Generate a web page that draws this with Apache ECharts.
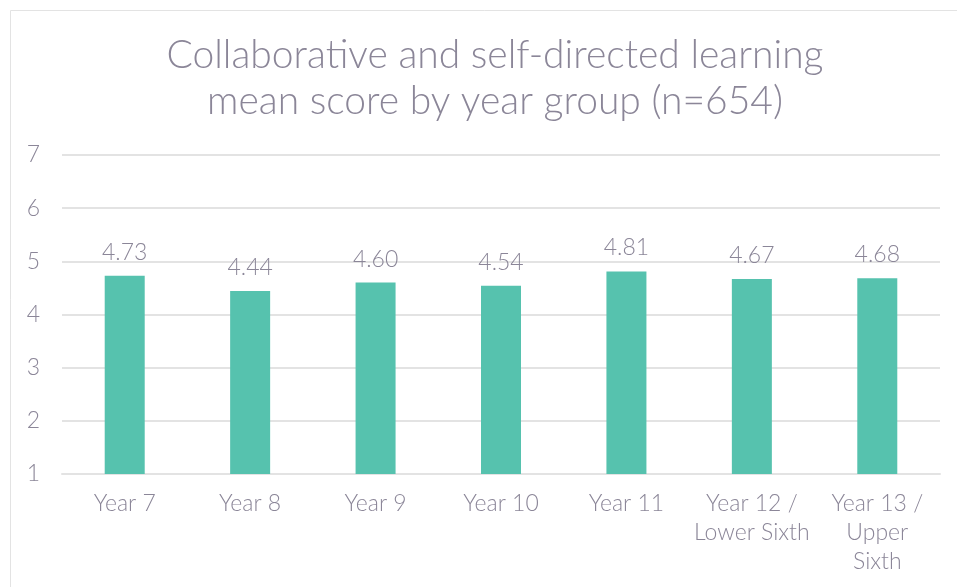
<!DOCTYPE html>
<html>
<head>
<meta charset="utf-8">
<script src="https://cdn.jsdelivr.net/npm/echarts@6/dist/echarts.min.js"></script>
<style>
html,body{margin:0;padding:0;background:#fff;}
#chart{width:957px;height:587px;}
</style>
</head>
<body>
<div id="chart"></div>
<script>
const categories = ["Year 7", "Year 8", "Year 9", "Year 10", "Year 11", "Year 12 /\nLower Sixth", "Year 13 /\nUpper\nSixth"];
const meanScores = [4.73, 4.44, 4.60, 4.54, 4.81, 4.67, 4.68];
const titleText = "Collaborative and self-directed learning\nmean score by year group (n=654)";

const textColor = "#8b8698";
const fontFam = "Lato, 'Open Sans', sans-serif";

const chart = echarts.init(document.getElementById('chart'), null, {renderer: 'canvas'});
chart.setOption({
  animation: false,
  backgroundColor: '#fff',
  graphic: [{
    type: 'rect',
    shape: {x: 10.5, y: 10.5, width: 1000, height: 1000},
    style: {fill: 'none', stroke: '#e3e3e3', lineWidth: 1},
    silent: true
  }],
  title: {
    text: titleText,
    left: 490,
    textAlign: 'center',
    top: 27,
    textStyle: {
      color: textColor,
      fontFamily: fontFam,
      fontWeight: 300,
      fontSize: 39,
      lineHeight: 46
    }
  },
  grid: {left: 62, right: 17, top: 155, bottom: 113},
  xAxis: {
    type: 'category',
    data: categories,
    axisLine: {lineStyle: {color: '#e3e3e3', width: 2}},
    axisTick: {show: false},
    axisLabel: {
      color: textColor,
      fontFamily: fontFam,
      fontWeight: 300,
      fontSize: 23,
      lineHeight: 29,
      margin: 15,
      interval: 0
    }
  },
  yAxis: {
    type: 'value',
    min: 1,
    max: 7,
    interval: 1,
    axisLine: {show: false},
    axisTick: {show: false},
    splitLine: {lineStyle: {color: '#e3e3e3', width: 2}},
    axisLabel: {
      color: textColor,
      fontFamily: fontFam,
      fontWeight: 300,
      fontSize: 23,
      margin: 22
    }
  },
  series: [{
    type: 'bar',
    data: meanScores,
    barWidth: 40,
    itemStyle: {color: '#56c2ae'},
    label: {
      show: true,
      position: 'top',
      distance: 12,
      color: textColor,
      fontFamily: fontFam,
      fontWeight: 300,
      fontSize: 23,
      formatter: p => p.value.toFixed(2)
    }
  }]
});
</script>
</body>
</html>
